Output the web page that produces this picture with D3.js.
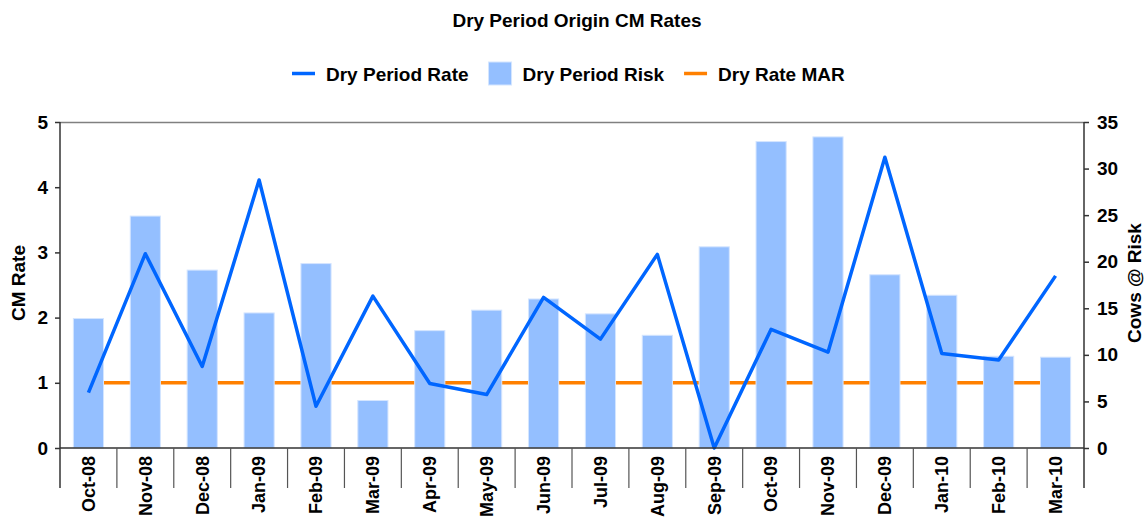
<!DOCTYPE html>
<html>
<head>
<meta charset="utf-8">
<script src="https://cdn.jsdelivr.net/npm/d3@7"></script>
<style>
  body { margin: 0; background: #fff; }
  svg text { font-family: "Liberation Sans", Arial, sans-serif; font-weight: bold; fill: #000; }
</style>
</head>
<body>
<svg id="chart" width="1146" height="520"></svg>
<script>
// chart data
const months = ["Oct-08", "Nov-08", "Dec-08", "Jan-09", "Feb-09", "Mar-09", "Apr-09", "May-09", "Jun-09",
  "Jul-09", "Aug-09", "Sep-09", "Oct-09", "Nov-09", "Dec-09", "Jan-10", "Feb-10", "Mar-10"];
const dryRate = [0.85, 2.98, 1.25, 4.11, 0.64, 2.33, 0.99, 0.82, 2.31, 1.67, 2.97, 0, 1.82, 1.47, 4.46, 1.45, 1.35, 2.64];
const dryRisk = [13.9, 24.9, 19.1, 14.5, 19.8, 5.1, 12.6, 14.8, 16.0, 14.4, 12.1, 21.6, 32.9, 33.4, 18.6, 16.4, 9.85, 9.75];
const dryMar = [1, 1, 1, 1, 1, 1, 1, 1, 1, 1, 1, 1, 1, 1, 1, 1, 1, 1];
const leftTicks = [0, 1, 2, 3, 4, 5];
const rightTicks = [0, 5, 10, 15, 20, 25, 30, 35];

const rateColor = "#0066ff", riskColor = "#94bfff", marColor = "#ff8000";

const svg = d3.select("#chart");
const m = {l: 60, r: 1084, t: 122, b: 448};

// scales
const x = d3.scaleBand().domain(months).range([m.l, m.r]).padding(0);
const cx = d => x(d) + x.bandwidth() / 2;
const yL = d3.scaleLinear().domain([0, 5]).range([m.b, m.t]);
const yR = d3.scaleLinear().domain([0, 35]).range([m.b, m.t]);

// title
svg.append("text").attr("x", 577).attr("y", 27).attr("text-anchor", "middle")
  .style("font-size", "19px").text("Dry Period Origin CM Rates");

// legend, laid out left to right
const legendItems = [
  {name: "Dry Period Rate", type: "line", color: rateColor},
  {name: "Dry Period Risk", type: "bar", color: riskColor},
  {name: "Dry Rate MAR", type: "line", color: marColor}
];
let lx = 292;
legendItems.forEach(function(it) {
  const g = svg.append("g");
  if (it.type === "line") {
    g.append("line").attr("x1", lx).attr("x2", lx + 23).attr("y1", 73.5).attr("y2", 73.5)
      .attr("stroke", it.color).attr("stroke-width", 3.5);
  } else {
    g.append("rect").attr("x", lx).attr("y", 62).attr("width", 23).attr("height", 23)
      .attr("fill", it.color).attr("stroke", "#d4e5ff").attr("stroke-width", 1);
  }
  const t = g.append("text").attr("x", lx + 34).attr("y", 81).style("font-size", "19px").text(it.name);
  lx += 34 + t.node().getComputedTextLength() + 20;
});

// top border of plot area
svg.append("line").attr("x1", m.l).attr("x2", m.r).attr("y1", m.t + 0.5).attr("y2", m.t + 0.5)
  .attr("stroke", "#808080").attr("stroke-width", 1.5);

// MAR line (behind bars)
const lineL = d3.line().x((d, i) => cx(months[i])).y(d => yL(d));
svg.append("path").datum(dryMar).attr("d", lineL).attr("fill", "none")
  .attr("stroke", marColor).attr("stroke-width", 3.5);

// risk bars on right axis
const bw = x.bandwidth() * 0.53;
svg.selectAll(".bar").data(dryRisk).enter().append("rect").attr("class", "bar")
  .attr("x", (d, i) => cx(months[i]) - bw / 2)
  .attr("y", d => yR(d))
  .attr("width", bw)
  .attr("height", d => m.b - yR(d))
  .attr("fill", riskColor).attr("stroke", "#d4e5ff").attr("stroke-width", 1);

// rate line
svg.append("path").datum(dryRate).attr("d", lineL).attr("fill", "none")
  .attr("stroke", rateColor).attr("stroke-width", 3.5).attr("stroke-linejoin", "round");

// left axis
const axL = svg.append("g").attr("transform", "translate(" + m.l + ",0)")
  .call(d3.axisLeft(yL).tickValues(leftTicks).tickSize(5).tickPadding(7).tickFormat(d3.format("d")));
axL.select(".domain").remove();
axL.selectAll("line").attr("stroke", "#333").attr("stroke-width", 1.5);
axL.selectAll("text").style("font-size", "19px").attr("font-family", null);

// right axis
const axR = svg.append("g").attr("transform", "translate(" + m.r + ",0)")
  .call(d3.axisRight(yR).tickValues(rightTicks).tickSize(5).tickPadding(8).tickFormat(d3.format("d")));
axR.select(".domain").remove();
axR.selectAll("line").attr("stroke", "#333").attr("stroke-width", 1.5);
axR.selectAll("text").style("font-size", "19px").attr("font-family", null);

// vertical axis lines, running down past the x axis
[m.l, m.r].forEach(function(px) {
  svg.append("line").attr("x1", px).attr("x2", px).attr("y1", m.t).attr("y2", 488)
    .attr("stroke", "#333").attr("stroke-width", 1.5);
});

// x axis: baseline, boundary ticks, rotated labels
svg.append("line").attr("x1", m.l).attr("x2", m.r).attr("y1", m.b).attr("y2", m.b)
  .attr("stroke", "#333").attr("stroke-width", 1.5);
svg.selectAll(".xtick").data(months.slice(1)).enter().append("line").attr("class", "xtick")
  .attr("x1", d => x(d)).attr("x2", d => x(d)).attr("y1", m.b).attr("y2", 488)
  .attr("stroke", "#555").attr("stroke-width", 1.2);
svg.selectAll(".xlab").data(months).enter().append("text").attr("class", "xlab")
  .attr("transform", d => "translate(" + cx(d) + ",456) rotate(-90)")
  .attr("text-anchor", "end").attr("dy", "0.35em")
  .style("font-size", "18px").text(d => d);

// axis titles
svg.append("text").attr("transform", "translate(25,283) rotate(-90)").attr("text-anchor", "middle")
  .style("font-size", "19px").text("CM Rate");
svg.append("text").attr("transform", "translate(1141,283) rotate(-90)").attr("text-anchor", "middle")
  .style("font-size", "19px").text("Cows @ Risk");
</script>
</body>
</html>
